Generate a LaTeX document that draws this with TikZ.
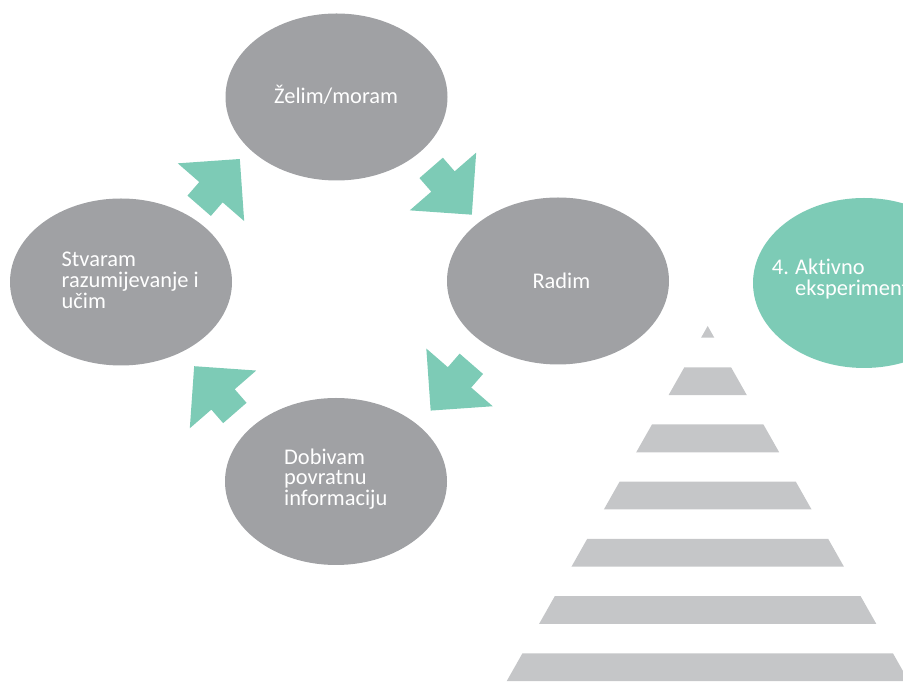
\documentclass[tikz,border=0pt]{standalone}
\usepackage{fontspec}
\setmainfont{Carlito}[Ligatures=NoCommon]
\usetikzlibrary{shapes.geometric}
\definecolor{cyclegray}{HTML}{A0A1A4}
\definecolor{mint}{HTML}{7DCBB6}
\definecolor{stairgray}{HTML}{C5C6C8}
\begin{document}
\begin{tikzpicture}[x=1pt,y=1pt,
    phase/.style={ellipse,fill=cyclegray,minimum width=222pt,minimum height=167pt,inner sep=0pt,outer sep=0pt},
    caption/.style={anchor=base west,align=left,text=white,inner sep=0pt,font=\fontsize{22.4}{20.7}\selectfont},
    flow/.style={fill=mint},
    stair/.style={fill=stairgray}]
    \useasboundingbox (0,0) rectangle (903,682);
    \clip (0,0) rectangle (903,682);

    % the four phases of the cycle
    \node[phase] (wish) at (336.5,585) {};
    \node[phase] (act) at (558,401) {};
    \node[phase] (feedback) at (336,200.5) {};
    \node[phase] (learn) at (121,400) {};
    \node[phase,fill=mint,minimum height=170pt] (experiment) at (864,399) {};

    % base of a multi-line caption is its last line
    \node[caption] (wishtext) at (274,578.5) {Želim/moram};
    \node[caption] (acttext) at (532.3,393.7) {Radim};
    \node[caption] (feedbacktext) at (284,176.3) {Dobivam\\povratnu\\informaciju};
    \node[caption] (learntext) at (61.5,373.7) {Stvaram\\razumijevanje i\\učim};
    \node[caption] (expnum) at (771.7,407) {4.};
    \node[caption] (exptext) at (795,386.3) {Aktivno\\eksperiment};

    % block arrows between the phases
    \foreach \x/\y/\a in {219.5/499.6/49, 451.5/490.7/-49, 451/294.8/-131, 214.5/292.4/131}
      \fill[flow,shift={(\x,\y)},rotate=\a] (31,0) -- (-13,44) -- (-13,15.5) -- (-31,15.5)
        -- (-31,-15.5) -- (-13,-15.5) -- (-13,-44) -- cycle;

    % stairs
    \fill[stair] (707.7,356) -- (714.3,344.3) -- (701.1,344.3) -- cycle;
    \foreach \k in {0,...,5} {
      \pgfmathsetmacro\ytop{314.7-57.2*\k}
      \pgfmathsetmacro\ybot{\ytop-27.8}
      \pgfmathsetmacro\wtop{0.566*(356-\ytop)}
      \pgfmathsetmacro\wbot{0.566*(356-\ybot)}
      \fill[stair] (707.7-\wtop,\ytop) -- (707.7+\wtop,\ytop) -- (707.7+\wbot,\ybot) -- (707.7-\wbot,\ybot) -- cycle;
    }
  \end{tikzpicture}
\end{document}
